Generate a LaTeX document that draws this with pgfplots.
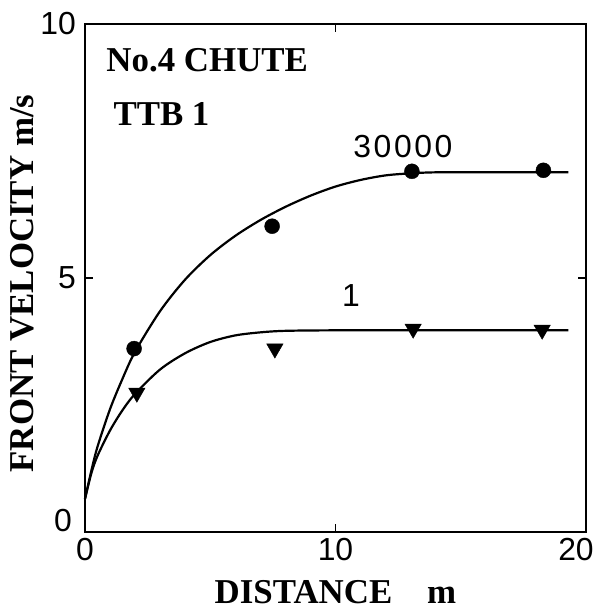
\documentclass[border=0pt]{standalone}
\usepackage{fontspec}
\setmainfont{Liberation Serif}
\newfontfamily\tickfont{Liberation Sans}
\usepackage{pgfplots}
\pgfplotsset{compat=1.18}
\newcommand{\tf}{\fontsize{32}{36}\selectfont\tickfont}
\newcommand{\lf}{\fontsize{35}{40}\selectfont\bfseries}
\begin{document}
\begin{tikzpicture}
\begin{axis}[
  at={(0,0)}, anchor=south west,
  scale only axis, width=501bp, height=508bp,
  xmin=0, xmax=20, ymin=0, ymax=10,
  xtick={0,10,20}, xticklabels={0,10,{}}, ytick={5,10},
  tick align=inside, major tick length=8bp,
  axis line style={line width=2bp},
  every tick/.style={line width=1.6bp, black},
  /pgf/number format/assume math mode=true,
  xticklabel style={font=\tf, inner sep=0pt, anchor=north, yshift=-6bp},
  yticklabel style={font=\tf, inner sep=0pt, anchor=east, xshift=-9bp},
  clip=false,
]
% fitted curves
\addplot[smooth, line width=2.2bp, no marks] coordinates {
  (0,0.65) (0.25,1.2) (0.5,1.68) (1,2.42) (1.5,3.02) (2,3.55) (3,4.35) (4,4.97)
  (5,5.45) (6,5.83) (7,6.14) (8,6.4) (9,6.62) (10,6.8) (11,6.93) (12,7.02)
  (13,7.06) (14,7.08) (16,7.08) (19.3,7.08)};
\addplot[smooth, line width=2.2bp, no marks] coordinates {
  (0,0.65) (0.25,1.15) (0.5,1.5) (1,2.0) (1.5,2.4) (2,2.72) (3,3.2) (4,3.52)
  (5,3.74) (6,3.87) (7,3.93) (8,3.96) (10,3.97) (14,3.97) (19.3,3.97)};
% measured points
\addplot[only marks, mark=*, mark size=7.5bp, mark options={fill=black, draw=black}]
  coordinates {(1.96,3.61) (7.47,6.02) (13.05,7.10) (18.3,7.12)};
\addplot[only marks, mark=triangle*, mark size=9.5bp, mark options={rotate=180, fill=black, draw=black}]
  coordinates {(2.07,2.74) (7.58,3.61) (13.1,4.0) (18.25,3.98)};
% texts
\node[anchor=base west, font=\lf, inner sep=0pt] at (axis cs:0.85,9.06) {No.4 CHUTE};
\node[anchor=base west, font=\lf, inner sep=0pt] at (axis cs:1.13,8.01) {TTB 1};
\node[anchor=base, font=\tf\addfontfeature{LetterSpace=8}, inner sep=0pt] at (axis cs:12.69,7.38) {30000};
\node[anchor=base, font=\tf, inner sep=0pt] at (axis cs:10.62,4.43) {1};
\node[anchor=east, font=\tf, inner sep=0pt] at ([xshift=-13bp,yshift=11bp]rel axis cs:0,0) {0};
\node[anchor=north, font=\tf, inner sep=0pt] at ([xshift=-10bp,yshift=-6bp]rel axis cs:1,0) {20};
\node[xshift=-51bp, yshift=-5.5bp, rotate=90, anchor=base, font=\lf, inner sep=0pt] at (rel axis cs:0,0.5) {FRONT VELOCITY m/s};
\node[yshift=-71bp, anchor=base, font=\lf, inner sep=0pt] at (rel axis cs:0.5,0) {DISTANCE\quad m};
\end{axis}
\pgfresetboundingbox
\path[use as bounding box] (-85bp,-78bp) rectangle (517bp,532bp);
\end{tikzpicture}
\end{document}
